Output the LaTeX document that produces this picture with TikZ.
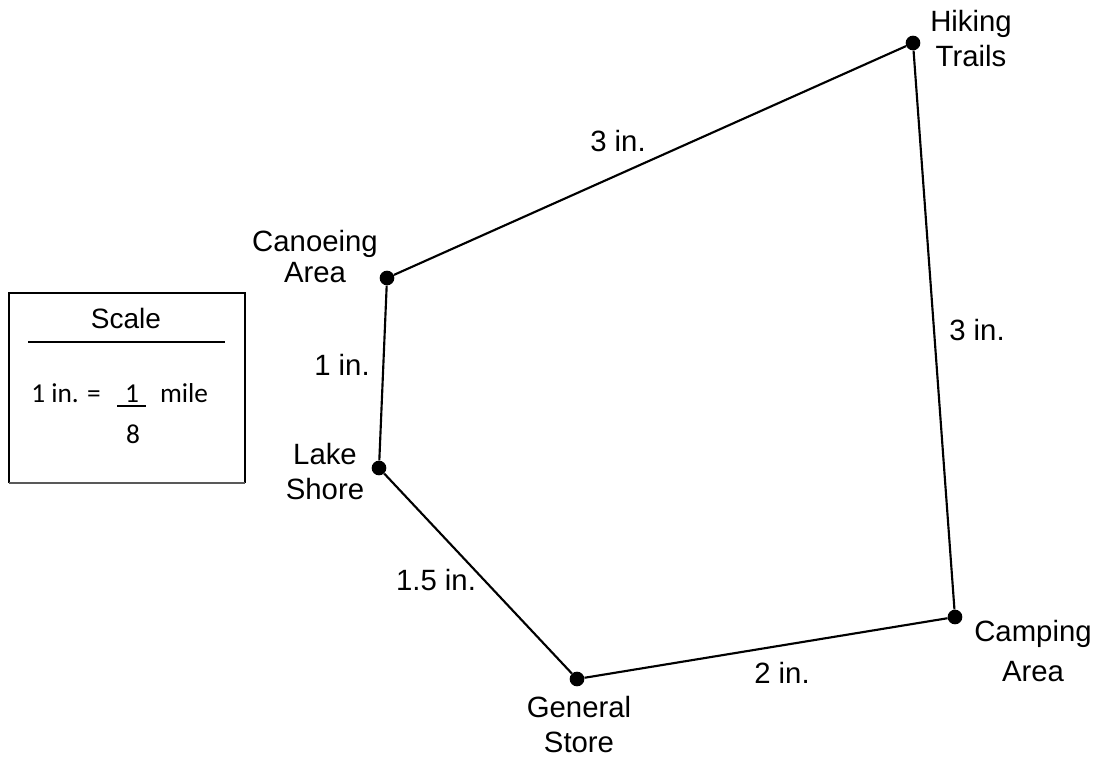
\documentclass[tikz,border=0pt]{standalone}
\usepackage{fontspec}
\setmainfont{Liberation Sans}
\newfontfamily\calib{Carlito}
\begin{document}
\begin{tikzpicture}[x=0.75pt,y=-0.75pt,
  dot/.style={circle,fill=black,inner sep=0pt,minimum size=11pt},
  lbl/.style={align=center,font=\fontsize{22}{#1}\selectfont,inner sep=0pt},
  lbl/.default=26.25pt,
  elbl/.style={font=\fontsize{22}{26}\selectfont,inner sep=0pt,anchor=base},
  sc/.style={font=\calib\fontsize{20.5}{24}\selectfont,inner sep=0pt,anchor=base},
  edge/.style={line width=1.6pt}]
\useasboundingbox (0,0) rectangle (1102,759);
% points
\node[dot] (H) at (913,43) {};
\node[dot] (C) at (387,278) {};
\node[dot] (L) at (379,468) {};
\node[dot] (G) at (577,679) {};
\node[dot] (K) at (955,617) {};
\draw[edge] (C) -- (H) -- (K) -- (G) -- (L) -- (C);
% place labels
\node[lbl] (tH) at (971,39) {Hiking\\Trails};
\node[lbl=23.25pt] (tC) at (315,257) {Canoeing\\Area};
\node[lbl] (tL) at (325,472) {Lake\\Shore};
\node[lbl] (tG) at (579,725) {General\\Store};
\node[lbl=30pt] (tK) at (1033,651) {Camping\\Area};
% edge labels
\node[elbl] (e1) at (618,152) {3 in.};
\node[elbl] (e2) at (977,340) {3 in.};
\node[elbl] (e3) at (342,375) {1 in.};
\node[elbl] (e4) at (436,590) {1.5 in.};
\node[elbl] (e5) at (782,683) {2 in.};
% scale box
\draw[line width=1.8pt] (9,483) -- (9,293) -- (245,293) -- (245,483);
\draw[line width=1.8pt] (9,483) -- (12,483);
\draw[line width=1.8pt] (232,483) -- (245,483);
\draw[line width=0.8pt,gray!70!black] (9,483) -- (245,483);
\node[elbl,font=\fontsize{21}{25}\selectfont] (scl) at (126,328) {Scale};
\draw[line width=1.8pt] (28,342) -- (225,342);
\node[sc] (eq) at (66,402) {1 in. =};
\node[sc] (one) at (132,402) {1};
\draw[line width=1.5pt] (117,406) -- (146,406);
\node[sc] (mile) at (184,402) {mile};
\node[sc] (eight) at (133,443) {8};
\end{tikzpicture}
\end{document}
